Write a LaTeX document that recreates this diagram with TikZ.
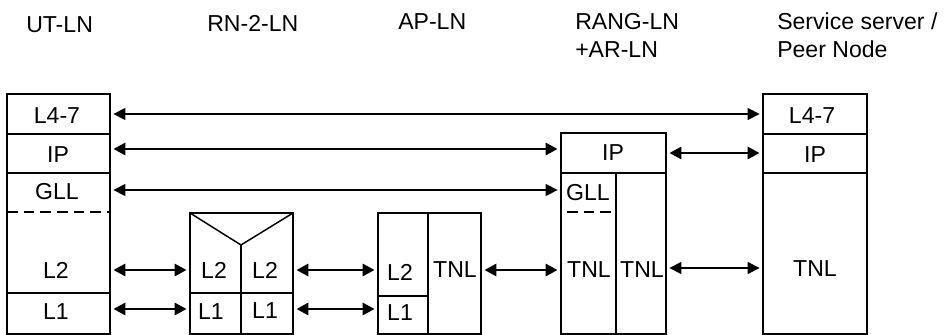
\documentclass[tikz,border=0pt]{standalone}
\usepackage{fontspec}
\setmainfont{Liberation Sans}
\usetikzlibrary{arrows.meta,fit,calc}
\tikzset{
  cell/.style={draw, line width=1.1pt, inner sep=0pt},
  area/.style={inner sep=0pt},
  lbl/.style={inner sep=0pt, anchor=center},
  hdr/.style={inner sep=0pt, anchor=base west},
  divider/.style={line width=1.6pt},
  dashdiv/.style={line width=1.4pt, dash pattern=on 8pt off 4.5pt},
  tip/.style={Triangle[length=9pt,width=9pt]},
  thickarr/.style={line width=2.2pt, {Triangle[length=9pt,width=9pt]}-{Triangle[length=9pt,width=9pt]}, shorten <=2pt, shorten >=2pt},
  thinarr/.style={line width=1pt, {Triangle[length=9pt,width=9pt]}-{Triangle[length=9pt,width=9pt]}, shorten <=2pt, shorten >=2pt}
}
\begin{document}
\begin{tikzpicture}[x=0.75pt, y=-0.75pt, font=\fontsize{17.3}{20}\selectfont]
\useasboundingbox (0,0) rectangle (948,335);

% headers
\node[hdr] (hut) at (26,33) {UT-LN};
\node[hdr] (hrn) at (207,32) {RN-2-LN};
\node[hdr] (hap) at (398,30) {AP-LN};
\node[hdr] (hrg1) at (575,30) {RANG-LN};
\node[hdr] (hrg2) at (575,58) {+AR-LN};
\node[hdr] (hsv1) at (777,30) {Service server /};
\node[hdr] (hsv2) at (777,58) {Peer Node};

% UT-LN stack
\node[cell, fit={(7,94) (110,134)}] (ut47) {};
\node[cell, fit={(7,134) (110,173)}] (utip) {};
\node[cell, fit={(7,173) (110,293)}] (utlow) {};
\node[cell, fit={(7,293) (110,334)}] (utl1) {};
\draw[dashdiv] (7,212) -- (110,212);
\node[lbl] (ut47t) at (57,116) {L4-7};
\node[lbl] (utipt) at (58,155) {IP};
\node[lbl] (utgllt) at (57,192) {GLL};
\node[lbl] (utl2t) at (56,270) {L2};
\node[lbl] (utl1t) at (56,312) {L1};

% RN-2-LN
\node[cell, fit={(190,213) (293,334)}] (rnbox) {};
\draw[line width=1.1pt] (190,213) -- (241,245) -- (293,213);
\draw[line width=1.1pt] (241,245) -- (241,334);
\draw[line width=1.1pt] (190,293) -- (293,293);
\node[lbl] (rnl2a) at (214,270) {L2};
\node[lbl] (rnl2b) at (265,270) {L2};
\node[lbl] (rnl1a) at (211,312) {L1};
\node[lbl] (rnl1b) at (265,311) {L1};

% AP-LN
\node[cell, fit={(378,213) (481,334)}] (apbox) {};
\draw[divider] (428,213) -- (428,334);
\draw[line width=1.4pt] (378,296) -- (428,296);
\node[lbl] (apl2) at (400,272) {L2};
\node[lbl] (apl1) at (400,313) {L1};
\node[lbl] (aptnl) at (455,270) {TNL};

% RANG-LN + AR-LN
\node[cell, fit={(561,133) (666,173)}] (rgip) {};
\node[cell, fit={(561,173) (666,334)}] (rgbox) {};
\draw[divider] (616,173) -- (616,334);
\draw[dashdiv] (567,212) -- (616,212);
\node[lbl] (rgipt) at (613,153) {IP};
\node[lbl] (rggll) at (588,193) {GLL};
\node[lbl] (rgtnl1) at (589,270) {TNL};
\node[lbl] (rgtnl2) at (642,270) {TNL};

% Service server / Peer Node
\node[cell, fit={(763,94) (867,134)}] (sv47) {};
\node[cell, fit={(763,134) (867,173)}] (svip) {};
\node[cell, fit={(763,173) (867,334)}] (svbox) {};
\node[lbl] (sv47t) at (812,116) {L4-7};
\node[lbl] (svipt) at (815,155) {IP};
\node[lbl] (svtnl) at (815,269) {TNL};

% arrow rows
\coordinate (rowA) at (0,114);
\coordinate (rowB) at (0,149);
\coordinate (rowC) at (0,190);
\coordinate (rowD) at (0,153);
\coordinate (rowE) at (0,270);
\coordinate (rowF) at (0,268);
\coordinate (rowG) at (0,309);

% connectors
\draw[thinarr] (rowA -| ut47.east) -- (rowA -| sv47.west);
\draw[thickarr] (rowB -| utip.east) -- (rowB -| rgip.west);
\draw[thinarr] (rowC -| utlow.east) -- (rowC -| rgbox.west);
\draw[thickarr] (rowD -| rgip.east) -- (rowD -| svip.west);
\draw[thickarr] (rowE -| utlow.east) -- (rowE -| rnbox.west);
\draw[thickarr] (rowE -| rnbox.east) -- (rowE -| apbox.west);
\draw[thickarr] (rowE -| apbox.east) -- (rowE -| rgbox.west);
\draw[thinarr] (rowF -| rgbox.east) -- (rowF -| svbox.west);
\draw[thickarr] (rowG -| utl1.east) -- (rowG -| rnbox.west);
\draw[thickarr] (rowG -| rnbox.east) -- (rowG -| apbox.west);
\end{tikzpicture}
\end{document}
